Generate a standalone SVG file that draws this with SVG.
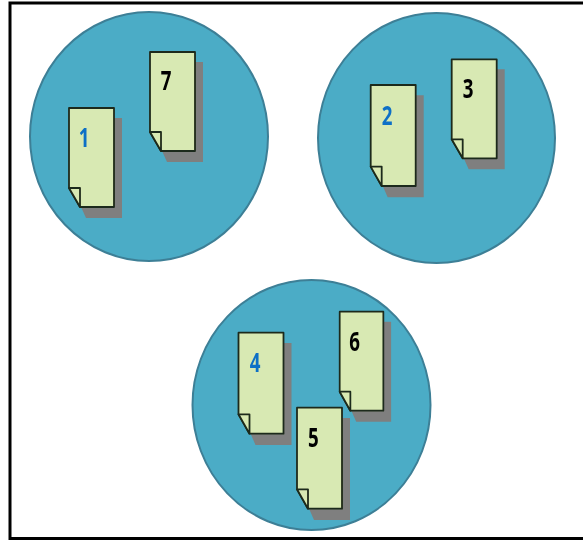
<svg xmlns="http://www.w3.org/2000/svg" width="583" height="541" viewBox="0 0 583 541">
<style>
.frame{fill:#fff;stroke:#000;stroke-width:3}
.c{fill:#4bacc6;stroke:#3d7f96;stroke-width:2}
.s{fill:#7f7f7f}
.d{fill:#d8e9b3;stroke:#1f2a1a;stroke-width:1.8;stroke-linejoin:round}
.t{font-family:"Open Sans","Liberation Sans",sans-serif;font-size:26px;font-weight:700;text-anchor:middle}
.b{fill:#0f6fc6}
.k{fill:#000}
.soft{filter:url(#soft)}
</style>
<defs>
<filter id="soft" x="-5%" y="-5%" width="110%" height="110%"><feGaussianBlur stdDeviation="0.45"/></filter>
<g id="doc">
<path class="s" d="M8 10H53V110H17L8 90Z"/>
<path class="d" d="M0 0H45V99H11L0 80Z"/>
<path class="d" d="M0 80H11V99Z"/>
</g>
</defs>
<g class="soft">
<rect class="frame" x="10" y="3" width="590" height="535.500"/>
<g id="circle-a"><ellipse class="c" cx="149" cy="136.500" rx="119" ry="124.500"/></g>
<g id="circle-b"><ellipse class="c" cx="436.500" cy="138" rx="118.500" ry="125"/></g>
<g id="circle-c"><ellipse class="c" cx="311.500" cy="405" rx="119" ry="125"/></g>
<g id="doc-1"><use href="#doc" transform="translate(69 108)"/><text class="t b" transform="translate(84 147) scale(.72 1)">1</text></g>
<g id="doc-7"><use href="#doc" transform="translate(150 52)"/><text class="t k" transform="translate(166 90) scale(.72 1)">7</text></g>
<g id="doc-2"><use href="#doc" transform="translate(370.700 85) scale(1 1.020)"/><text class="t b" transform="translate(387 125) scale(.72 1)">2</text></g>
<g id="doc-3"><use href="#doc" transform="translate(451.700 59.300)"/><text class="t k" transform="translate(468 98) scale(.72 1)">3</text></g>
<g id="doc-4"><use href="#doc" transform="translate(238.500 332.700) scale(1 1.020)"/><text class="t b" transform="translate(255 372) scale(.72 1)">4</text></g>
<g id="doc-6"><use href="#doc" transform="translate(339.700 311.700) scale(.97 1)"/><text class="t k" transform="translate(354.700 351) scale(.72 1)">6</text></g>
<g id="doc-5"><use href="#doc" transform="translate(297 407.700) scale(1 1.020)"/><text class="t k" transform="translate(313.300 447) scale(.72 1)">5</text></g>
</g>
</svg>
